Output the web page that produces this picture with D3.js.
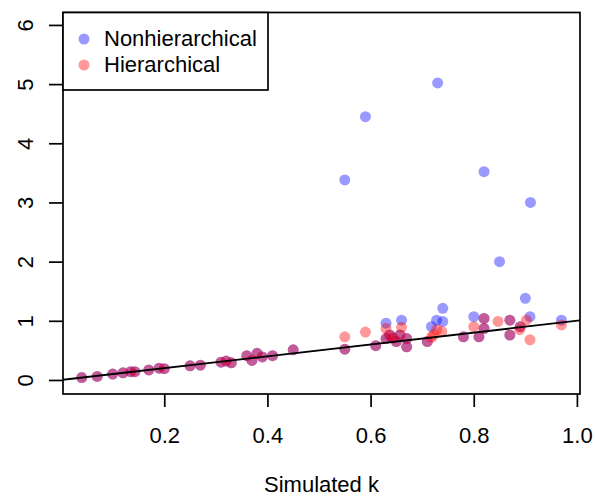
<!DOCTYPE html>
<html>
<head>
<meta charset="utf-8">
<script src="https://cdn.jsdelivr.net/npm/d3@7"></script>
<style>
  body { margin: 0; background: #fff; }
  svg { display: block; }
  text { font-family: "Liberation Sans", Arial, Helvetica, sans-serif; }
</style>
</head>
<body>
<svg id="chart" width="595" height="498"></svg>
<script>
// ---- data ----
const seriesNames = ["Nonhierarchical", "Hierarchical"];
const xTicks = [0.2, 0.4, 0.6, 0.8, 1.0];
const xTickLabels = ["0.2", "0.4", "0.6", "0.8", "1.0"];
const yTicks = [0, 1, 2, 3, 4, 5, 6];
const yTickLabels = ["0", "1", "2", "3", "4", "5", "6"];
const xTitle = "Simulated k";

const nonhierX = [0.04, 0.07, 0.10, 0.12, 0.135, 0.143, 0.17, 0.19, 0.20, 0.25, 0.27, 0.31, 0.32, 0.33, 0.36, 0.37, 0.38, 0.39, 0.41, 0.45,
  0.55, 0.55, 0.59, 0.61, 0.63, 0.63, 0.637, 0.643, 0.65, 0.66, 0.657, 0.67, 0.67, 0.71, 0.718, 0.728, 0.73, 0.74, 0.74,
  0.78, 0.80, 0.81, 0.82, 0.82, 0.82, 0.85, 0.87, 0.87, 0.89, 0.90, 0.909, 0.91, 0.97];
const nonhierY = [0.04, 0.06, 0.10, 0.12, 0.14, 0.14, 0.17, 0.20, 0.19, 0.24, 0.25, 0.30, 0.32, 0.29, 0.41, 0.33, 0.45, 0.39, 0.41, 0.51,
  3.38, 0.52, 4.45, 0.58, 0.96, 0.70, 0.76, 0.71, 0.65, 1.01, 0.76, 0.70, 0.56, 0.65, 0.90, 1.01, 5.02, 1.21, 0.99,
  0.73, 1.07, 0.73, 1.04, 0.87, 3.52, 2.00, 1.01, 0.76, 0.90, 1.38, 1.07, 3.00, 1.01];

const hierX = [0.04, 0.07, 0.10, 0.12, 0.135, 0.143, 0.17, 0.19, 0.20, 0.25, 0.27, 0.31, 0.32, 0.33, 0.36, 0.37, 0.38, 0.39, 0.41, 0.45,
  0.55, 0.55, 0.59, 0.61, 0.63, 0.63, 0.637, 0.643, 0.65, 0.66, 0.657, 0.67, 0.67, 0.71, 0.718, 0.722, 0.728, 0.738,
  0.78, 0.80, 0.81, 0.82, 0.82, 0.847, 0.87, 0.87, 0.89, 0.889, 0.902, 0.909, 0.97];
const hierY = [0.04, 0.06, 0.10, 0.12, 0.14, 0.14, 0.17, 0.20, 0.19, 0.24, 0.25, 0.30, 0.32, 0.29, 0.41, 0.33, 0.45, 0.39, 0.41, 0.51,
  0.73, 0.52, 0.81, 0.58, 0.87, 0.70, 0.76, 0.71, 0.65, 0.89, 0.76, 0.70, 0.56, 0.65, 0.72, 0.76, 0.85, 0.82,
  0.73, 0.90, 0.73, 1.04, 0.87, 0.99, 1.01, 0.76, 0.90, 0.85, 1.01, 0.68, 0.93];

const lineX = [0.0037, 1.006]; // reference line y = x over the plotted range

// ---- layout ----
const svg = d3.select("#chart");
const mLeft = 63, mRight = 580, mTop = 12.5, mBottom = 394;
const x = d3.scaleLinear().domain([0.0037, 1.006]).range([mLeft, mRight]);
const y = d3.scaleLinear().domain([-0.237, 6.21]).range([mBottom, mTop]);
const fontSize = 22;
const ptR = 5.5;
const colors = ["rgba(0,0,255,0.4)", "rgba(255,0,0,0.4)"];

// points
const nonhier = nonhierX.map((v, i) => ({ x: v, y: nonhierY[i] }));
const hier = hierX.map((v, i) => ({ x: v, y: hierY[i] }));

svg.append("g").selectAll("circle").data(nonhier).join("circle")
  .attr("cx", d => x(d.x)).attr("cy", d => y(d.y)).attr("r", ptR)
  .attr("fill", colors[0]);
svg.append("g").selectAll("circle").data(hier).join("circle")
  .attr("cx", d => x(d.x)).attr("cy", d => y(d.y)).attr("r", ptR)
  .attr("fill", colors[1]);

// reference line y = x
svg.append("line")
  .attr("x1", x(lineX[0])).attr("y1", y(lineX[0]))
  .attr("x2", x(lineX[1])).attr("y2", y(lineX[1]))
  .attr("stroke", "#000").attr("stroke-width", 1.8);

// box
svg.append("rect").attr("x", mLeft).attr("y", mTop)
  .attr("width", mRight - mLeft).attr("height", mBottom - mTop)
  .attr("fill", "none").attr("stroke", "#000").attr("stroke-width", 1.7);

// x axis
const xAxis = svg.append("g").attr("transform", `translate(0,${mBottom})`)
  .call(d3.axisBottom(x).tickValues(xTicks).tickFormat((d, i) => xTickLabels[i]).tickSize(13));
xAxis.select(".domain").remove();
xAxis.selectAll("line").attr("stroke", "#000").attr("stroke-width", 1.7);
xAxis.selectAll("text").attr("y", 49).attr("dy", 0)
  .style("font-size", fontSize + "px").style("font-family", "Liberation Sans, Arial, sans-serif").attr("fill", "#000");

// y axis
const yAxis = svg.append("g").attr("transform", `translate(${mLeft},0)`)
  .call(d3.axisLeft(y).tickValues(yTicks).tickFormat((d, i) => yTickLabels[i]).tickSize(14));
yAxis.select(".domain").remove();
yAxis.selectAll("line").attr("stroke", "#000").attr("stroke-width", 1.7);
yAxis.selectAll("text").attr("x", 0).attr("dy", 0)
  .attr("text-anchor", "middle")
  .attr("transform", "translate(-30,0) rotate(-90)")
  .style("font-size", fontSize + "px").style("font-family", "Liberation Sans, Arial, sans-serif").attr("fill", "#000");

// x title
svg.append("text").attr("x", (mLeft + mRight) / 2).attr("y", 492)
  .attr("text-anchor", "middle").style("font-size", fontSize + "px").text(xTitle);

// legend
const lg = svg.append("g");
lg.append("rect").attr("x", mLeft).attr("y", mTop).attr("width", 205).attr("height", 77.5)
  .attr("fill", "#fff").attr("stroke", "#000").attr("stroke-width", 1.7);
seriesNames.forEach((name, i) => {
  lg.append("circle").attr("cx", 84).attr("cy", 39 + i * 26).attr("r", ptR).attr("fill", colors[i]);
  lg.append("text").attr("x", 104).attr("y", 46 + i * 26)
    .style("font-size", fontSize + "px").text(name);
});
</script>
</body>
</html>
